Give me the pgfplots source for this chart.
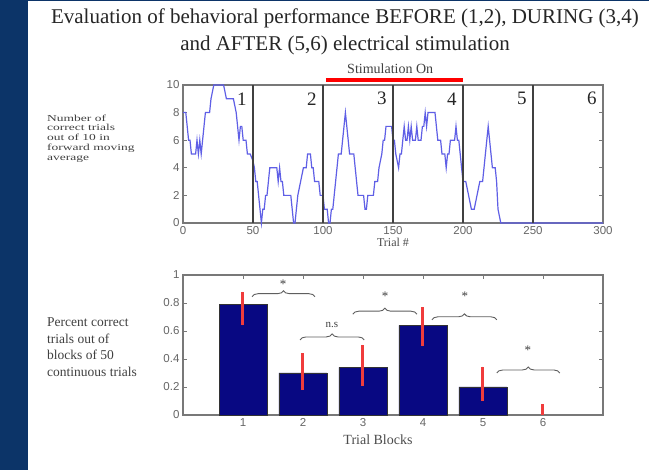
\documentclass[border=0pt]{standalone}
\usepackage{fontspec}
\setmainfont{Liberation Serif}
\newfontfamily\ticksans{Liberation Sans}
\usepackage{pgfplots}
\pgfplotsset{compat=1.18}
\usetikzlibrary{decorations.pathreplacing}

\definecolor{slideblue}{RGB}{12,52,104}
\definecolor{barblue}{RGB}{8,8,130}
\definecolor{errred}{RGB}{240,60,60}
\definecolor{axgray}{RGB}{120,120,120}
\definecolor{traceblue}{RGB}{95,95,230}
\definecolor{bracegray}{RGB}{95,95,95}

\pgfplotsset{
  matlab/.style={
    scale only axis,
    axis line style={axgray, line width=1.2pt},
    tick style={axgray, line width=0.9pt},
    tick align=inside,
    major tick length=4pt,
    tick label style={font=\ticksans\fontsize{11.5}{12}\selectfont, text=black!60},
    /pgf/number format/assume math mode=true,
    clip=false,
  }
}

\begin{document}
\begin{tikzpicture}[x=1pt,y=1pt]
\useasboundingbox (0,0) rectangle (649,470);
\fill[white] (0,0) rectangle (649,470);
\fill[slideblue] (0,0) rectangle (28,470);
\fill[slideblue] (28,469) rectangle (649,470);

% title
\node[align=center, font=\fontsize{21}{27}\selectfont, text=black!85] at (345,438.5)
  {Evaluation of behavioral performance BEFORE (1,2), DURING (3,4)\\
   and AFTER (5,6) electrical stimulation};

% side captions
\node[anchor=north west, inner sep=0pt, text=black!75] at (47,356)
  {\scalebox{1}[0.68]{\fontsize{13.5}{14.5}\selectfont
   \begin{tabular}{@{}l@{}}Number of\\correct trials\\out of 10 in\\forward moving\\average\end{tabular}}};
\node[anchor=north west, inner sep=0pt, text=black!75] at (47,155)
  {\fontsize{13.5}{16.5}\selectfont
   \begin{tabular}{@{}l@{}}Percent correct\\trials out of\\blocks of 50\\continuous trials\end{tabular}};

% moving average of correct trials
\begin{axis}[matlab,
  at={(183pt,247pt)}, anchor=south west,
  width=420pt, height=138pt,
  xmin=0, xmax=300, ymin=0, ymax=10,
  xtick={0,50,...,300}, ytick={0,2,...,10},
  xlabel={Trial \#},
  xlabel style={font=\fontsize{12}{12}\selectfont, text=black!70, yshift=3pt},
]
\addplot[traceblue, line width=1.2pt] coordinates {
(0,8) (2,8) (3,7) (4,6) (5,6) (6,5) (9,5) (10,6) (11,5) (12,6) (13,5) (14,6)
(15,7) (16,8) (19,8) (20,9) (22,10) (29,10) (31,9) (36,9) (38,8) (39,7) (40,6)
(41,7) (42,7) (43,6) (45,6) (46,5) (48,5) (50,4.5) (51,4) (52,3) (53,3) (54,2)
(55,1) (56,0) (57,1) (58,1) (59,2) (60,2) (61,3) (62,4) (67,4) (68,3) (69,4)
(70,3) (71,3) (72,2) (77,2) (78,1) (79,0) (80,0) (81,1) (82,2) (84,3) (86,4)
(88,4) (89,5) (91,5) (92,4) (93,4) (94,3) (97,3) (98,2) (100,2) (101,1) (103,1)
(104,0) (105,0) (106,1) (107,1) (108,2) (109,3) (110,4) (111,5) (113,5) (114,6)
(115,7) (116,8) (117,7) (118,6) (119,5) (122,5) (123,4) (124,3) (125,2) (129,2)
(130,1) (131,1) (132,2) (136,2) (137,3) (139,3) (140,4) (142,5) (143,6) (144,6)
(145,7) (149,7) (150,6) (151,6) (152,5) (154,4) (155,5) (156,5) (157,6) (158,7)
(159,6) (160,6) (161,7) (162,6) (163,7) (164,6) (166,6) (167,7) (168,6) (170,6)
(171,7) (172,7) (173,8) (174,7) (175,8) (180,8) (181,7) (182,6) (184,6) (185,5)
(187,5) (188,4) (189,5) (190,5) (191,6) (194,6) (195,7) (196,6) (197,6) (198,5)
(199,4) (200,3) (201,3) (202,3) (204,2) (206,1) (208,1) (210,2) (212,3) (214,3)
(216,5) (218,7) (219,6) (221,4) (223,4) (224,3) (225,1) (227,0) (300,0)
};
% block boundaries
\pgfplotsinvokeforeach{50,100,150,200,250}{
  \draw[black!75, line width=1.3pt] (axis cs:#1,0) -- (axis cs:#1,10);
}
% block numbers
\tikzset{blocknum/.style={font=\fontsize{19}{19}\selectfont, text=black!85}}
\node[blocknum] at (axis cs:42,9) {1};
\node[blocknum] at (axis cs:92,9) {2};
\node[blocknum] at (axis cs:142,9) {3};
\node[blocknum] at (axis cs:192,9) {4};
\node[blocknum] at (axis cs:242,9) {5};
\node[blocknum] at (axis cs:292,9) {6};
% stimulation period
\draw[red, line width=4.5pt] (axis cs:102,10.36) -- (axis cs:200,10.36);
\node[font=\fontsize{14}{14}\selectfont, text=black!75] at (axis cs:148,11.2) {Stimulation On};
\end{axis}

% block averages
\begin{axis}[matlab,
  at={(183pt,55pt)}, anchor=south west,
  width=420pt, height=140pt,
  xmin=0, xmax=7, ymin=0, ymax=1,
  xtick={1,...,6}, ytick={0,0.2,...,1},
  xlabel={Trial Blocks},
  xlabel style={font=\fontsize{14}{14}\selectfont, text=black!70, xshift=-15pt, yshift=-1pt},
]
\addplot[ybar, bar width=0.8, bar shift=0pt, fill=barblue, draw=black!80,
  error bars/.cd, y dir=both, y explicit,
  error bar style={errred, line width=3pt}, error mark=none]
coordinates {
  (1,0.79) += (0,0.09) -= (0,0.15)
  (2,0.30) += (0,0.14) -= (0,0.12)
  (3,0.34) += (0,0.16) -= (0,0.13)
  (4,0.64) += (0,0.13) -= (0,0.15)
  (5,0.20) += (0,0.145) -= (0,0.10)
};
% block 6 has no correct trials: only its error bar shows
\addplot[draw=none, mark=none,
  error bars/.cd, y dir=plus, y explicit,
  error bar style={errred, line width=3pt}, error mark=none]
coordinates {(6,0) += (0,0.08)};
% significance brackets
\tikzset{sig/.style={decorate, decoration={brace, amplitude=6pt}, bracegray, line width=0.9pt}}
\draw[sig] (axis cs:1.15,0.845) -- (axis cs:2.20,0.845);
\draw[sig] (axis cs:1.95,0.536) -- (axis cs:3.02,0.536);
\draw[sig] (axis cs:2.83,0.72)  -- (axis cs:3.90,0.72);
\draw[sig] (axis cs:4.15,0.68)  -- (axis cs:5.23,0.68);
\draw[sig] (axis cs:5.23,0.30)  -- (axis cs:6.28,0.30);
\tikzset{star/.style={font=\fontsize{13}{13}\selectfont, text=black!75, inner sep=0pt}}
\node[star] at (axis cs:1.67,0.935) {*};
\node[star] at (axis cs:3.37,0.845) {*};
\node[star] at (axis cs:4.70,0.845) {*};
\node[star] at (axis cs:5.75,0.465) {*};
\node[font=\fontsize{11}{11}\selectfont, text=black!75] at (axis cs:2.48,0.64) {n.s};
\end{axis}
\end{tikzpicture}
\end{document}
